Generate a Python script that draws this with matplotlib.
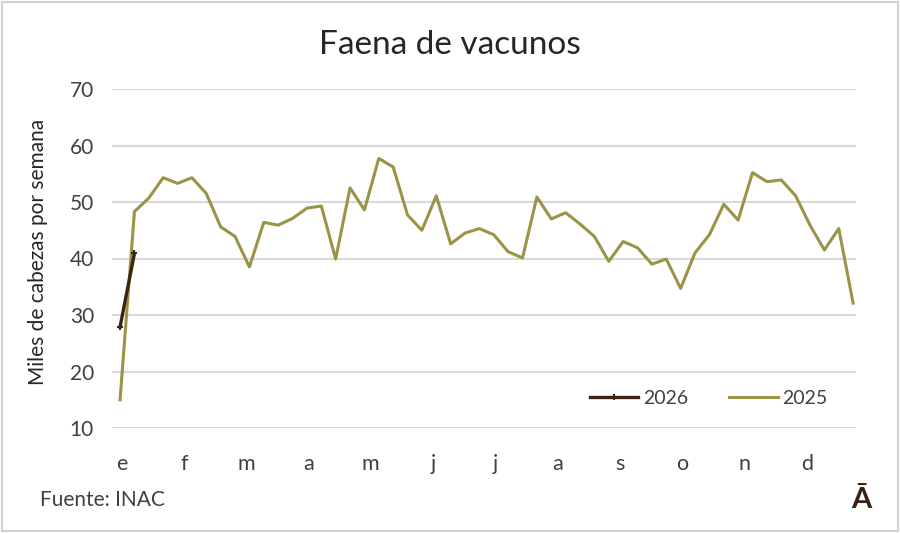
import matplotlib
matplotlib.use("Agg")
import matplotlib.pyplot as plt
from matplotlib.patches import Rectangle

plt.rcParams['font.family'] = ['Lato', 'DejaVu Sans']

months = ['e', 'f', 'm', 'a', 'm', 'j', 'j', 'a', 's', 'o', 'n', 'd']
y2025 = [15.0, 48.3, 50.7, 54.3, 53.3, 54.3, 51.5, 45.6, 43.9, 38.5,
         46.4, 45.9, 47.1, 48.9, 49.3, 39.9, 52.5, 48.6, 57.7, 56.2,
         47.7, 45.0, 51.1, 42.6, 44.5, 45.3, 44.2, 41.2, 40.1, 50.9,
         47.0, 48.1, 46.1, 43.9, 39.5, 43.0, 41.9, 39.0, 39.9, 34.7,
         41.0, 44.2, 49.6, 46.8, 55.2, 53.6, 53.9, 51.1, 45.9, 41.5,
         45.3, 32.1]
y2026 = [27.9, 40.9]
yticks = [10, 20, 30, 40, 50, 60, 70]

c2025 = '#9b9447'
c2026 = '#3b2314'
txt = '#404040'

fig = plt.figure(figsize=(9, 5.33), dpi=100)
ax = fig.add_axes([112/900, 1-428/533, (856-112)/900, (428-89)/533])

weeks25 = list(range(len(y2025)))
weeks26 = list(range(len(y2026)))
ax.plot(weeks25, y2025, color=c2025, lw=2.2, label='2025', zorder=3)
ax.plot(weeks26, y2026, color=c2026, lw=2.4, marker='+', ms=5, mew=1.5,
        label='2026', zorder=4)

ax.set_xlim(-0.56, 51.2)
ax.set_ylim(10, 70)
ax.set_yticks(yticks)
ax.set_yticklabels([str(v) for v in yticks], fontsize=15, color=txt)
nw = 52 / 12
ax.set_xticks([0.1 + k * nw for k in range(12)])
ax.set_xticklabels(months, fontsize=15.5, color=txt)
ax.tick_params(axis='both', length=0)
ax.tick_params(axis='y', pad=13)
ax.tick_params(axis='x', pad=19)
ax.grid(axis='y', color='#d9d9d9', lw=1.5, zorder=0)
for s in ax.spines.values():
    s.set_visible(False)

fig.text(38/900, 1-252/533, 'Miles de cabezas por semana', rotation=90,
         fontsize=15, color='#262626', ha='center', va='center')
fig.text(0.5, 1-45/533, 'Faena de vacunos', ha='center', va='center',
         fontsize=24, color='#262626')

h, l = ax.get_legend_handles_labels()
leg = ax.legend([h[1], h[0]], [l[1], l[0]], loc='center right', ncol=2,
                bbox_to_anchor=(0.962, 0.088), frameon=False, fontsize=14,
                handlelength=2.5, columnspacing=2.1, handletextpad=0.25,
                borderpad=0, borderaxespad=0, labelcolor=txt)

fig.text(40/900, 1-500/533, 'Fuente: INAC', fontsize=15, color=txt,
         ha='left', va='center')
fig.text(861/900, 1-500/533, 'Ā', fontsize=21, fontweight='bold',
         color=c2026, ha='center', va='center')

fig.patches.append(Rectangle((0.002, 0.003), 0.996, 0.994, transform=fig.transFigure,
                             fill=False, edgecolor='#d0d0d0', lw=1.5))

fig.savefig('out.png', dpi=100)
